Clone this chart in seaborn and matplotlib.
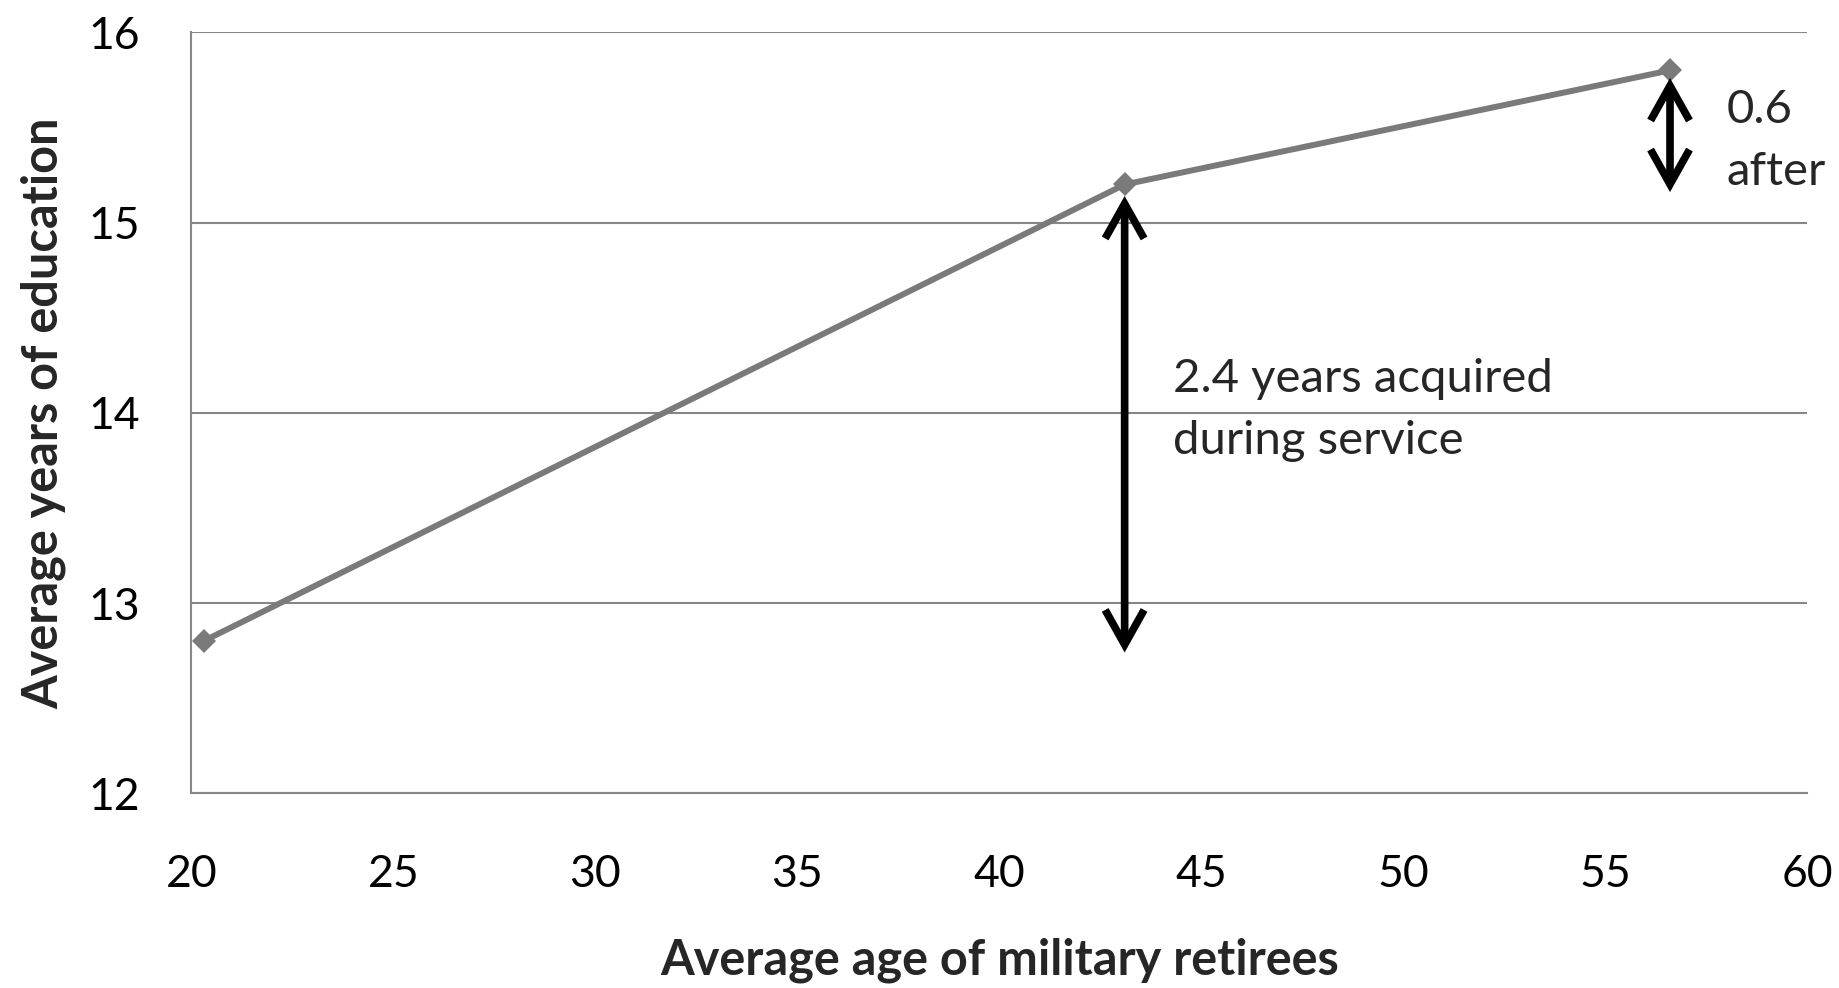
import matplotlib
matplotlib.use("Agg")
import matplotlib.pyplot as plt
import pandas as pd
import seaborn as sns
from matplotlib.patches import FancyArrowPatch

# Average age of military retirees vs. average years of education
ages = [20.3, 43.1, 56.6]
education = [12.8, 15.2, 15.8]
x_ticks = [20, 25, 30, 35, 40, 45, 50, 55, 60]
y_ticks = [12, 13, 14, 15, 16]
service_gain = 2.4
after_gain = 0.6

df = pd.DataFrame({"age": ages, "education": education})

sns.set_theme(style="white")
plt.rcParams["font.family"] = ["Lato", "DejaVu Sans"]

fig = plt.figure(figsize=(18.39, 9.88), dpi=100)
ax = fig.add_axes([0.1041, 0.1971, 0.9828 - 0.1041, 0.9673 - 0.1971])

grey = "#878787"
line_grey = "#7a7a7a"

sns.lineplot(data=df, x="age", y="education", ax=ax, color=line_grey,
             linewidth=4.3, marker="D", markersize=12, markeredgewidth=0,
             zorder=3)

ax.set_xlim(20, 60)
ax.set_ylim(12, 16)
ax.set_xticks(x_ticks)
ax.set_yticks(y_ticks)
ax.set_xticklabels([str(t) for t in x_ticks])
ax.set_yticklabels([str(t) for t in y_ticks])

ax.yaxis.grid(True, color=grey, linewidth=1.5)
ax.xaxis.grid(False)
ax.set_axisbelow(True)
for side in ("top", "right"):
    ax.spines[side].set_visible(False)
for side in ("left", "bottom"):
    ax.spines[side].set_color(grey)
    ax.spines[side].set_linewidth(1.5)

ax.tick_params(axis="both", which="major", direction="out", length=12,
               width=1.5, color=grey, labelsize=32, labelcolor="black")
ax.tick_params(axis="y", pad=25)
ax.tick_params(axis="x", pad=32)

ax.set_xlabel("Average age of military retirees", fontsize=35,
              fontweight="bold", labelpad=30)
ax.set_ylabel("Average years of education", fontsize=35,
              fontweight="bold", labelpad=16)

# Double-headed arrows marking the education gained during and after service
arrow_kw = dict(arrowstyle="<->,head_length=2.5,head_width=1.4",
                mutation_scale=10, color="black", linewidth=5.5,
                joinstyle="miter", capstyle="butt", zorder=4)
low1 = education[1] - 0.06
ax.add_patch(FancyArrowPatch((ages[1], low1 - service_gain), (ages[1], low1),
                             shrinkA=0, shrinkB=0, **arrow_kw))
low2 = education[1] - 0.04
ax.add_patch(FancyArrowPatch((ages[2], low2), (ages[2], low2 + after_gain),
                             shrinkA=0, shrinkB=0, **arrow_kw))

ax.text(44.3, 14.015, f"{service_gain} years acquired\nduring service",
        fontsize=34, ha="left", va="center", linespacing=1.6)
ax.text(58.0, 15.43, f"{after_gain}\nafter", fontsize=34, ha="left",
        va="center", linespacing=1.6, clip_on=False)

fig.savefig("out.png", dpi=100)
